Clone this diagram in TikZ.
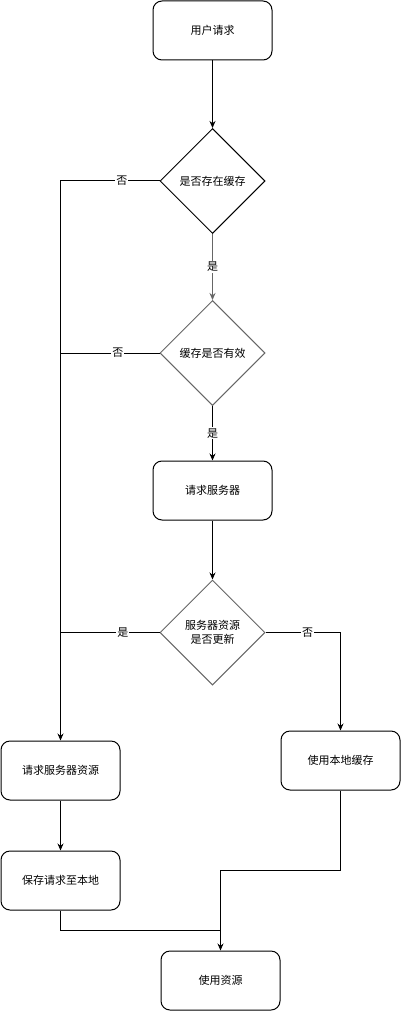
\documentclass[tikz,border=0pt]{standalone}
\usepackage{fontspec}
\setmainfont{Noto Sans CJK SC}
\usetikzlibrary{shapes.geometric,arrows.meta}
\definecolor{greyline}{RGB}{102,102,102}
\begin{document}
\begin{tikzpicture}[x=1pt,y=-1pt,
  font=\fontsize{11}{14}\selectfont,
  box/.style={draw,line width=1pt,rounded corners=9pt,minimum width=119pt,minimum height=59pt,inner sep=0pt,align=center},
  dia/.style={draw,line width=1pt,diamond,minimum width=105pt,minimum height=105pt,inner sep=0pt,align=center},
  arr/.style={line width=1pt,-{Stealth[length=7pt,width=6pt]}},
  ln/.style={line width=1pt},
  lbl/.style={fill=white,inner sep=1pt,font=\fontsize{11}{13}\selectfont}]
\useasboundingbox (0,0) rectangle (401,1011);
\node[box] (user) at (212.5,30.5) {用户请求};
\node[dia] (d1) at (212.5,181) {是否存在缓存};
\node[dia,draw=greyline] (d2) at (212.5,353) {缓存是否有效};
\node[box] (req) at (212.5,490.5) {请求服务器};
\node[dia,draw=greyline] (d3) at (212.5,632.5) {服务器资源\\是否更新};
\node[box] (reqres) at (60.5,770.5) {请求服务器资源};
\node[box] (save) at (60.5,880.5) {保存请求至本地};
\node[box] (local) at (340.5,760.5) {使用本地缓存};
\node[box] (use) at (220.5,980.5) {使用资源};

\draw[arr] (user) -- (d1);
\draw[arr,greyline] (d1) -- node[lbl,text=black] {是} (d2);
\draw[arr] (d2) -- node[lbl] {是} (req);
\draw[arr] (req) -- (d3);
\draw[arr] (d1.west) -| node[lbl,pos=0.19] {否} (reqres.north);
\draw[ln] (d2.west) -- node[lbl,pos=0.42] {否} (60.5,353);
\draw[ln] (d3.west) -- node[lbl,pos=0.37] {是} (60.5,632.5);
\draw[arr] (d3.east) -| node[lbl,pos=0.28] {否} (local.north);
\draw[arr] (reqres) -- (save);
\draw[arr] (local.south) |- (220.5,870.5) -- (use.north);
\draw[ln] (save.south) |- (220.5,930.5);
\end{tikzpicture}
\end{document}
